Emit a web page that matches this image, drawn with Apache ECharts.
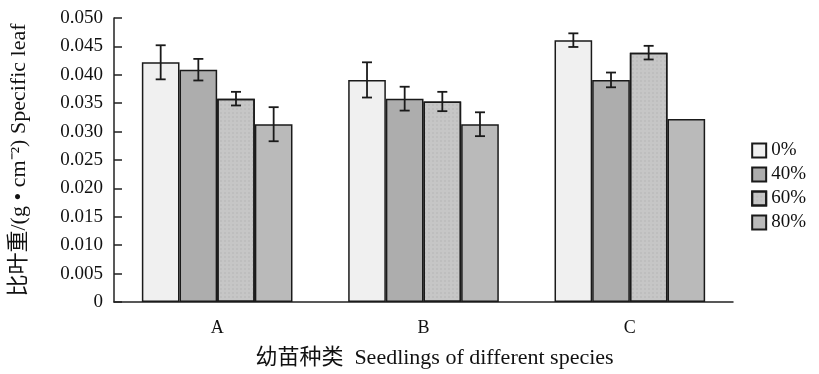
<!DOCTYPE html>
<html>
<head>
<meta charset="utf-8">
<script src="https://cdn.jsdelivr.net/npm/echarts@6/dist/echarts.min.js"></script>
<style>
  html, body { margin: 0; padding: 0; background: #fff; }
  #chart { width: 819px; height: 374px; }
</style>
</head>
<body>
<div id="chart"></div>
<script>
  // 幼苗种类
  const categories = ['A', 'B', 'C'];
  const seriesNames = ['0%', '40%', '60%', '80%'];
  // 比叶重 均值
  const mean0 = [0.0422, 0.0391, 0.0461];
  const mean40 = [0.0409, 0.0358, 0.0391];
  const mean60 = [0.0358, 0.0353, 0.0439];
  const mean80 = [0.0313, 0.0313, 0.0322];
  // 误差
  const err0 = [0.0030, 0.0031, 0.0012];
  const err40 = [0.0019, 0.0021, 0.0013];
  const err60 = [0.0012, 0.0017, 0.0012];
  const err80 = [0.0030, 0.0021, null];
  const yTicks = [0, 0.005, 0.01, 0.015, 0.02, 0.025, 0.03, 0.035, 0.04, 0.045, 0.05];

  const means = [mean0, mean40, mean60, mean80];
  const errs = [err0, err40, err60, err80];
  const colors = ['#f0f0f0', '#adadad', '#c6c6c6', '#bababa'];
  const catGap = 0.27;

  const chart = echarts.init(document.getElementById('chart'));
  const serif = '"Liberation Serif", "Noto Sans CJK SC", serif';

  let series = [];
  seriesNames.forEach((name, i) => {
    let itemStyle = {
      color: colors[i],
      borderColor: '#1a1a1a',
      borderWidth: 1.5
    };
    if (i === 2) {
      itemStyle.decal = {
        symbol: 'rect', symbolSize: 0.5, color: 'rgba(120,120,120,0.35)',
        dashArrayX: [2, 2], dashArrayY: [2, 2], rotation: 0
      };
    }
    series.push({
      name: name,
      type: 'bar',
      data: means[i],
      barGap: 0,
      barCategoryGap: (catGap * 100) + '%',
      itemStyle: itemStyle
    });
  });

  // 误差线
  seriesNames.forEach((name, i) => {
    series.push({
      type: 'custom',
      silent: true,
      z: 10,
      data: means[i].map((m, k) => [k, m, errs[i][k]]),
      renderItem: function (params, api) {
        const e = api.value(2);
        if (e == null || isNaN(e)) return null;
        const k = api.value(0);
        const m = api.value(1);
        const catW = api.size([1, 0])[0];
        const barW = catW * (1 - catGap) / 4;
        const center = api.coord([k, m])[0] + (i - 1.5) * barW;
        const top = api.coord([k, m + e])[1];
        const bot = api.coord([k, m - e])[1];
        const half = 5;
        const style = { stroke: '#1a1a1a', lineWidth: 1.8 };
        return {
          type: 'group',
          children: [
            { type: 'line', shape: { x1: center, y1: top, x2: center, y2: bot }, style: style },
            { type: 'line', shape: { x1: center - half, y1: top, x2: center + half, y2: top }, style: style },
            { type: 'line', shape: { x1: center - half, y1: bot, x2: center + half, y2: bot }, style: style }
          ]
        };
      }
    });
  });

  const option = {
    backgroundColor: '#fff',
    animation: false,
    grid: { left: 112, right: 86, top: 18, bottom: 71 },
    legend: {
      data: seriesNames,
      orient: 'vertical',
      right: 8,
      top: 136,
      itemWidth: 14,
      itemHeight: 14,
      itemGap: 5,
      icon: 'rect',
      textStyle: { fontFamily: serif, fontSize: 19, color: '#111' }
    },
    xAxis: {
      type: 'category',
      data: categories,
      name: '幼苗种类  Seedlings of different species',
      nameLocation: 'center',
      nameGap: 45,
      nameTextStyle: { fontFamily: serif, fontSize: 22, color: '#111', padding: [0, 0, 0, 22] },
      axisLine: { lineStyle: { color: '#222', width: 1.5 } },
      axisTick: { inside: true, length: 7, lineStyle: { color: '#222', width: 1.5 } },
      axisLabel: { fontFamily: serif, fontSize: 18, color: '#111', margin: 17 }
    },
    yAxis: {
      type: 'value',
      min: 0,
      max: 0.05,
      interval: 0.005,
      name: '比叶重/(g • cm⁻²) Specific leaf',
      nameLocation: 'center',
      nameGap: 84,
      nameTextStyle: { fontFamily: serif, fontSize: 22, color: '#111' },
      axisLine: { show: true, lineStyle: { color: '#222', width: 1.5 } },
      axisTick: { show: true, inside: true, length: 8, lineStyle: { color: '#222', width: 1.5 } },
      splitLine: { show: false },
      axisLabel: {
        fontFamily: serif, fontSize: 19, color: '#111', margin: 11,
        formatter: function (v) {
          const t = yTicks.find(x => Math.abs(x - v) < 1e-9);
          if (t === 0) return '0';
          return (t !== undefined ? t : v).toFixed(3);
        }
      }
    },
    series: series
  };
  chart.setOption(option);
</script>
</body>
</html>
